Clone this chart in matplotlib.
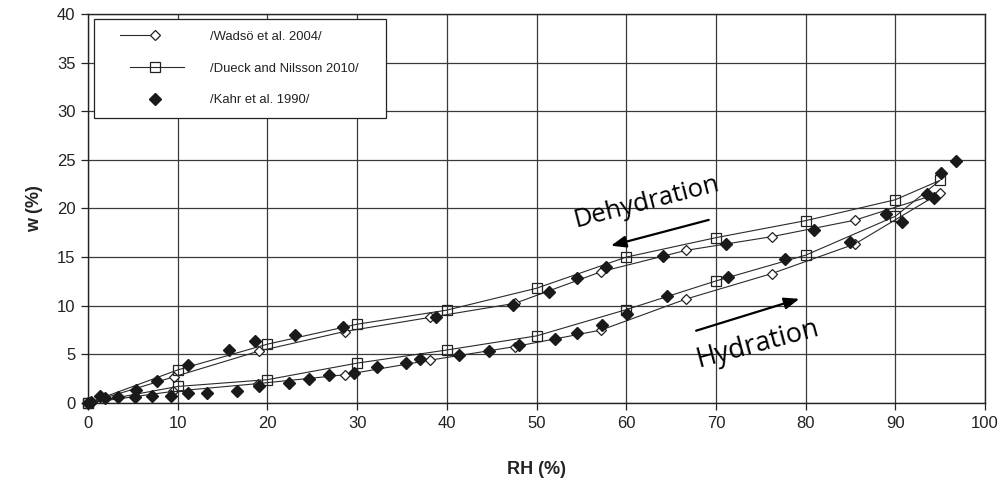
import matplotlib
matplotlib.use("Agg")
import matplotlib.pyplot as plt
import numpy as np
from matplotlib.legend_handler import HandlerLine2D

# ---- data ----
# Wadsö et al. 2004: hydration branch then dehydration branch
wadso_rh = [0, 9.5, 19, 28.6, 38.1, 47.6, 57.2, 66.7, 76.2, 85.5, 95,
            85.5, 76.2, 66.7, 57.2, 47.6, 38.1, 28.6, 19.1, 9.6, 0]
wadso_w = [0, 1.2, 2.0, 2.9, 4.4, 5.8, 7.5, 10.7, 13.3, 16.35, 21.6,
           18.8, 17.1, 15.7, 13.5, 10.25, 8.8, 7.35, 5.35, 2.7, 0]

# Dueck and Nilsson 2010
dueck_rh = [0, 10, 20, 30, 40, 50, 60, 70, 80, 90, 95,
            90, 80, 70, 60, 50, 40, 30, 20, 10, 0]
dueck_w = [0, 1.7, 2.4, 4.1, 5.45, 6.9, 9.6, 12.55, 15.2, 19.2, 22.9,
           20.9, 18.75, 17.0, 15.0, 11.8, 9.55, 8.1, 6.05, 3.4, 0]

# Kahr et al. 1990 (points only)
kahr_rh = [0, 0.3, 1.3, 1.9, 3.3, 5.2, 5.35, 7.1, 7.7, 9.3, 11.1, 11.2, 13.3,
           16.6, 15.75, 18.6, 19.1, 22.4, 23.1, 24.6, 26.9, 28.4, 29.7, 32.2,
           35.45, 37.0, 38.8, 41.4, 44.7, 47.4, 48.1, 51.4, 52.1, 54.5, 54.5,
           57.3, 57.8, 60.05, 64.1, 64.5, 71.1, 71.4, 77.7, 80.9, 84.9, 89.0,
           90.8, 93.5, 94.3, 95.05, 96.8]
kahr_w = [0, 0.1, 0.7, 0.5, 0.65, 0.65, 1.35, 0.75, 2.3, 0.75, 1.05, 3.9, 1.05,
          1.27, 5.4, 6.4, 1.7, 2.1, 7.0, 2.5, 2.9, 7.8, 3.1, 3.75,
          4.1, 4.5, 8.8, 4.95, 5.35, 10.05, 6.0, 11.45, 6.55, 12.9, 7.15,
          8.05, 13.95, 9.2, 15.1, 11.05, 16.35, 12.95, 14.8, 17.8, 16.6, 19.4,
          18.65, 21.5, 21.05, 23.6, 24.9]

legend_labels = ["/Wadsö et al. 2004/", "/Dueck and Nilsson 2010/", "/Kahr et al. 1990/"]
x_ticks = list(range(0, 101, 10))
y_ticks = list(range(0, 41, 5))

plt.rcParams['font.family'] = ['Liberation Sans', 'DejaVu Sans']

fig = plt.figure(figsize=(10.05, 4.86), dpi=100)
ax = fig.add_axes([88/1005, 1 - 403/486, (985 - 88)/1005, (403 - 14)/486])

line_col = '#2a2a2a'
l1, = ax.plot(wadso_rh, wadso_w, color=line_col, lw=0.8, marker='D', ms=5.6,
              mfc='white', mec='#222222', mew=0.9, label=legend_labels[0],
              clip_on=False, zorder=3)
l2, = ax.plot(dueck_rh, dueck_w, color=line_col, lw=0.8, marker='s', ms=7.0,
              mfc='none', mec='#222222', mew=0.9, label=legend_labels[1],
              clip_on=False, zorder=3)
l3, = ax.plot(kahr_rh, kahr_w, ls='none', marker='D', ms=6.6,
              mfc='#1a1a1a', mec='#1a1a1a', label=legend_labels[2],
              clip_on=False, zorder=4)

ax.set_xlim(0, 100)
ax.set_ylim(0, 40)
ax.set_xticks(x_ticks)
ax.set_yticks(y_ticks)
ax.grid(True, color='#3a3a3a', lw=0.9)
ax.set_axisbelow(True)
for s in ax.spines.values():
    s.set_color('#222222')
    s.set_linewidth(1.0)
ax.tick_params(direction='out', length=5, width=0.9, color='#222222',
               labelsize=12, labelcolor='#222222', pad=4)
ax.set_xlabel("RH (%)", fontsize=13, fontweight='bold', color='#222222', labelpad=22)
ax.set_ylabel("w (%)", fontsize=13, fontweight='bold', color='#222222', labelpad=10)


class PartHandler(HandlerLine2D):
    def __init__(self, f0, f1, **kw):
        super().__init__(numpoints=1, **kw)
        self.f0, self.f1 = f0, f1

    def create_artists(self, legend, orig_handle, xdescent, ydescent, width,
                       height, fontsize, trans):
        arts = super().create_artists(legend, orig_handle, xdescent, ydescent,
                                      width, height, fontsize, trans)
        x0 = -xdescent
        c = x0 + width * 0.5
        a = x0 + width * self.f0
        b = x0 + width * self.f1
        for art in arts:
            yd = art.get_ydata()
            if len(yd) == 3:
                art.set_xdata([a, c, b])
                art.set_markevery([1])
        return arts


handler_map = {l1: PartHandler(0.15, 0.5), l2: PartHandler(0.25, 0.8),
               l3: PartHandler(0.5, 0.5)}
leg = ax.legend(handles=[l1, l2, l3], loc='upper left',
                bbox_to_anchor=(94/1005, 1 - 120/486, (386 - 94)/1005, 101/486),
                bbox_transform=fig.transFigure, mode='expand',
                borderaxespad=0, fontsize=9.4, frameon=True, fancybox=False,
                edgecolor='#222222', framealpha=1, borderpad=0.9,
                labelspacing=1.5, handlelength=7.5, handletextpad=0.45,
                handler_map=handler_map)
leg.get_frame().set_linewidth(0.9)
for t in leg.get_texts():
    t.set_color('#222222')

# annotations
ax.annotate("", xy=(58.0, 16.1), xytext=(69.5, 18.9),
            arrowprops=dict(arrowstyle='-|>,head_length=0.9,head_width=0.35',
                            color='black', lw=1.6))
ax.annotate("", xy=(79.6, 10.8), xytext=(67.5, 7.35),
            arrowprops=dict(arrowstyle='-|>,head_length=0.9,head_width=0.35',
                            color='black', lw=1.6))
ax.text(62.3, 20.7, "Dehydration", family=['Open Sans', 'DejaVu Sans'],
        fontsize=18.5, rotation=14.5, ha='center', va='center', color='black',
        rotation_mode='anchor')
ax.text(74.7, 6.1, "Hydration", family=['Open Sans', 'DejaVu Sans'],
        fontsize=19.5, rotation=15, ha='center', va='center', color='black',
        rotation_mode='anchor')

fig.savefig("out.png", dpi=100)
